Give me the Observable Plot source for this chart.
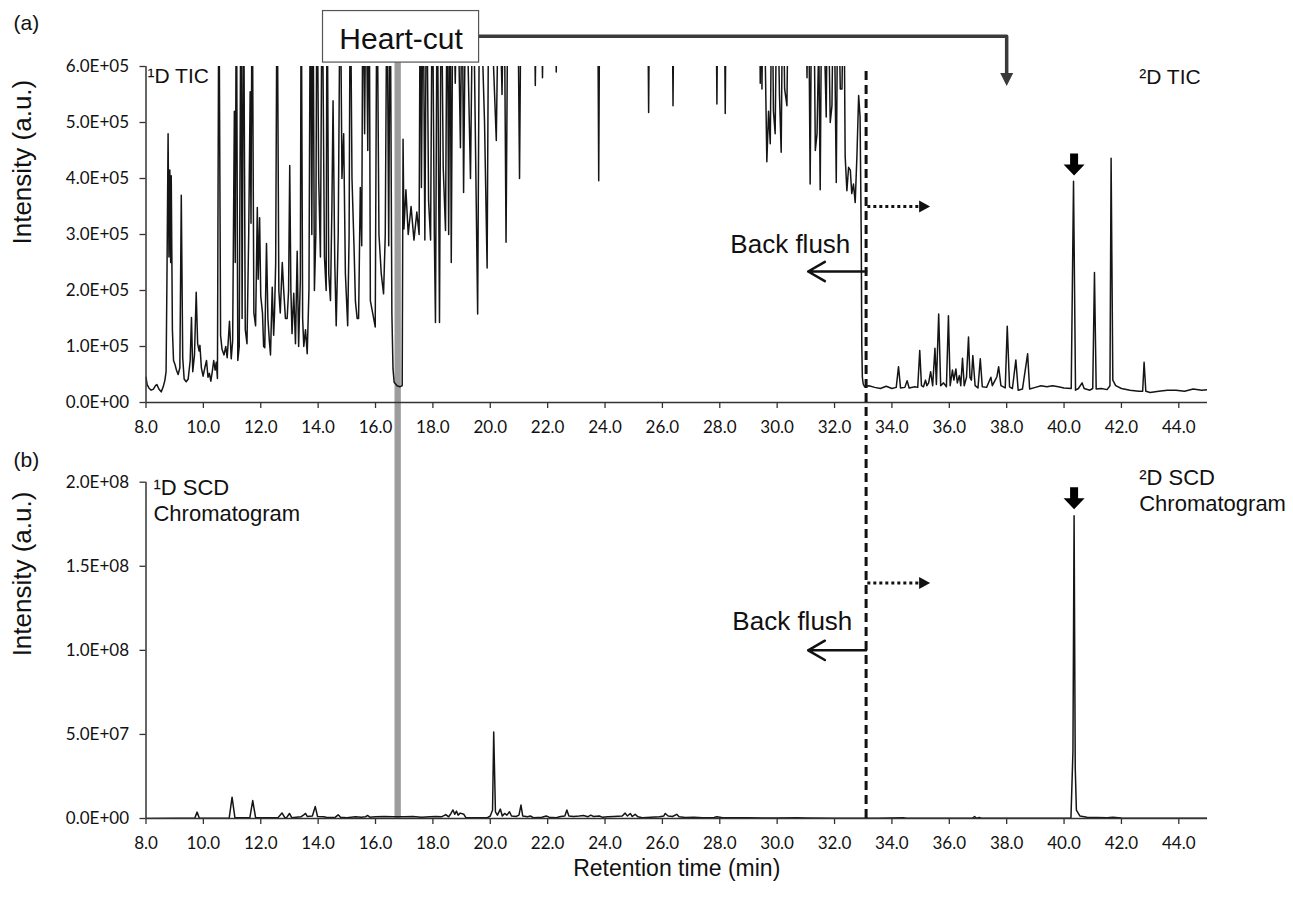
<!DOCTYPE html>
<html>
<head>
<meta charset="utf-8">
<script src="https://cdn.jsdelivr.net/npm/d3@7"></script>
<script src="https://cdn.jsdelivr.net/npm/@observablehq/plot@0.6"></script>
<style>
  body { margin: 0; background: #fff; }
  #wrap { position: relative; width: 1293px; height: 903px; overflow: hidden; background: #fff; }
  #wrap svg { position: absolute; left: 0; }
</style>
</head>
<body>
<div id="wrap"></div>
<script>
// ---------------- DATA ----------------
// shared x axis (retention time, min)
const xDomain = [8, 45];
const xTicks = [8, 10, 12, 14, 16, 18, 20, 22, 24, 26, 28, 30, 32, 34, 36, 38, 40, 42, 44];
const xTickLabels = ["8.0","10.0","12.0","14.0","16.0","18.0","20.0","22.0","24.0","26.0","28.0","30.0","32.0","34.0","36.0","38.0","40.0","42.0","44.0"];

// panel (a) y axis
const yDomainA = [0, 6e5];
const yTicksA = [0, 1e5, 2e5, 3e5, 4e5, 5e5, 6e5];
const yTickLabelsA = ["0.0E+00","1.0E+05","2.0E+05","3.0E+05","4.0E+05","5.0E+05","6.0E+05"];

// panel (b) y axis
const yDomainB = [0, 2e8];
const yTicksB = [0, 5e7, 1e8, 1.5e8, 2e8];
const yTickLabelsB = ["0.0E+00","5.0E+07","1.0E+08","1.5E+08","2.0E+08"];

// (a) TIC trace: [time (min), intensity (x1e5 a.u.)]; values above 6 run off the top of the frame
const ticTrace = [
  [8.00,0.45],[8.04,0.32],[8.10,0.26],[8.18,0.22],[8.26,0.24],[8.33,0.30],[8.38,0.32],[8.45,0.24],[8.53,0.19],[8.60,0.28],
  [8.66,0.40],[8.70,0.55],[8.73,2.2],[8.77,4.8],[8.80,2.6],[8.83,4.15],[8.86,2.5],[8.88,4.05],[8.92,1.3],[8.96,0.75],
  [9.01,0.68],[9.06,0.58],[9.12,0.50],[9.18,0.62],[9.23,3.7],[9.28,0.8],[9.33,0.42],[9.40,0.37],[9.47,0.42],[9.54,0.75],
  [9.585,1.52],[9.63,0.55],[9.69,0.85],[9.75,1.97],[9.80,1.05],[9.85,0.92],[9.88,1.02],[9.93,0.62],[9.99,0.47],[10.05,0.62],
  [10.11,0.75],[10.16,0.45],[10.21,0.52],[10.26,0.38],[10.31,0.55],[10.36,0.75],[10.41,0.58],[10.45,0.72],[10.49,0.43],[10.54,8],
  [10.60,1.2],[10.65,0.95],[10.72,0.85],[10.78,1.0],[10.83,0.8],[10.91,1.45],[10.97,0.78],[11.02,1.1],[11.08,5.2],[11.11,2.5],
  [11.15,8],[11.20,0.75],[11.25,1.0],[11.31,8],[11.35,1.5],[11.40,8],[11.46,1.3],[11.52,1.05],[11.58,3.0],[11.63,5.55],
  [11.66,3.2],[11.70,8],[11.76,1.6],[11.82,1.37],[11.88,3.48],[11.91,2.2],[11.96,3.3],[12.00,1.9],[12.06,1.6],[12.10,1.0],
  [12.14,0.98],[12.20,2.84],[12.25,1.5],[12.30,1.1],[12.34,0.85],[12.40,2.06],[12.45,1.2],[12.48,1.6],[12.52,2.48],[12.57,8],
  [12.63,2.0],[12.68,1.6],[12.75,2.5],[12.80,2.0],[12.86,1.5],[12.92,1.5],[12.97,2.0],[13.01,4.23],[13.05,2.0],[13.09,1.23],
  [13.15,1.95],[13.21,1.05],[13.27,2.7],[13.32,1.0],[13.38,2.2],[13.41,8],[13.46,1.5],[13.50,1.0],[13.56,1.3],[13.62,0.87],
  [13.68,2.0],[13.73,8],[13.78,3.0],[13.82,8],[13.87,2.0],[13.92,3.0],[13.96,8],[14.02,4.0],[14.08,2.6],[14.14,8],
  [14.22,2.6],[14.28,2.0],[14.31,8],[14.37,2.3],[14.43,1.82],[14.48,3.5],[14.52,5.39],[14.58,2.5],[14.63,1.37],[14.70,3.0],
  [14.77,8],[14.83,4.0],[14.89,4.8],[14.95,2.3],[15.03,1.37],[15.08,3.0],[15.12,8],[15.18,4.0],[15.25,2.8],[15.30,1.8],
  [15.36,1.5],[15.41,1.5],[15.47,3.84],[15.52,2.8],[15.56,8],[15.62,4.8],[15.67,8],[15.73,4.5],[15.78,8],[15.82,1.82],
  [15.90,1.6],[15.99,1.35],[16.05,8],[16.12,3.0],[16.20,2.3],[16.28,1.94],[16.34,3.0],[16.40,8],[16.46,2.8],[16.51,8],
  [16.57,1.6],[16.61,0.6],[16.65,0.36],[16.75,0.3],[16.85,0.28],[16.93,0.3],[16.96,4.7],[16.99,3.1],[17.06,3.8],[17.14,3.0],
  [17.24,3.5],[17.34,2.9],[17.44,3.4],[17.52,3.0],[17.56,8],[17.60,3.84],[17.66,8],[17.72,2.9],[17.78,8],[17.85,3.6],
  [17.92,2.9],[17.98,8],[18.05,3.0],[18.09,1.43],[18.15,8],[18.23,1.43],[18.29,8],[18.36,4.2],[18.44,3.07],[18.50,8],
  [18.55,3.0],[18.60,8],[18.64,2.5],[18.70,8],[18.78,5.7],[18.85,8],[18.96,4.55],[19.02,8],[19.07,3.75],[19.15,8],
  [19.31,4.0],[19.40,8],[19.56,1.58],[19.63,8],[19.80,5.0],[19.89,2.4],[19.95,8],[20.10,6.2],[20.21,4.68],[20.30,8],
  [20.41,5.5],[20.48,8],[20.55,2.86],[20.62,8],[20.80,7],[20.95,8],[21.02,4.0],[21.08,8],[21.52,8],[21.57,5.66],
  [21.62,8],[21.77,8],[21.82,5.8],[21.87,8],[22.26,8],[22.30,5.9],[22.34,8],[23.74,8],[23.78,3.96],[23.82,8],
  [25.48,8],[25.52,5.18],[25.56,8],[26.33,8],[26.37,5.3],[26.41,8],[27.86,8],[27.90,5.33],[27.94,8],[28.15,8],
  [28.19,5.16],[28.23,8],[29.38,8],[29.41,5.7],[29.44,8],[29.47,5.6],[29.52,8],[29.58,6.3],[29.64,4.3],[29.70,5.2],
  [29.76,4.62],[29.82,8],[29.87,5.2],[29.93,4.8],[30.00,8],[30.08,5.5],[30.14,4.47],[30.20,8],[30.26,5.6],[30.34,5.3],
  [30.40,8],[31.00,8],[31.04,5.8],[31.09,8],[31.15,3.9],[31.21,8],[31.27,8],[31.33,4.5],[31.39,4.8],[31.45,6.5],
  [31.50,3.8],[31.56,8],[31.66,6.2],[31.71,5.1],[31.76,8],[31.85,5.0],[31.91,5.3],[31.97,8],[32.06,3.93],[32.12,8],
  [32.20,5.6],[32.26,5.6],[32.32,8],[32.37,4.4],[32.43,3.78],[32.49,4.2],[32.55,4.15],[32.60,3.73],[32.66,3.9],[32.72,3.57],
  [32.78,4.4],[32.84,5.48],[32.89,5.1],[32.93,3.0],[32.95,1.0],[32.97,0.45],[33.00,0.33],[33.05,0.28],[33.20,0.30],[33.40,0.27],
  [33.60,0.25],[33.80,0.29],[34.00,0.25],[34.15,0.27],[34.23,0.64],[34.30,0.26],[34.45,0.27],[34.53,0.39],[34.60,0.26],[34.80,0.28],
  [34.90,0.27],[34.97,0.93],[35.03,0.30],[35.10,0.28],[35.17,0.40],[35.22,0.30],[35.28,0.35],[35.35,0.55],[35.42,0.30],[35.50,0.97],
  [35.55,0.32],[35.63,1.58],[35.70,0.30],[35.80,0.35],[35.90,0.28],[35.97,1.55],[36.03,0.30],[36.11,0.58],[36.16,0.40],[36.23,0.60],
  [36.28,0.35],[36.35,0.48],[36.40,0.30],[36.46,0.79],[36.52,0.30],[36.60,0.45],[36.67,1.17],[36.72,0.45],[36.77,0.40],[36.82,0.84],
  [36.90,0.30],[37.00,0.26],[37.08,0.78],[37.15,0.28],[37.30,0.27],[37.45,0.45],[37.50,0.30],[37.60,0.40],[37.66,0.46],[37.72,0.64],
  [37.80,0.30],[37.95,0.26],[38.02,1.36],[38.10,0.28],[38.20,0.25],[38.32,0.76],[38.40,0.22],[38.55,0.24],[38.73,0.87],[38.80,0.24],
  [39.00,0.27],[39.20,0.30],[39.40,0.28],[39.60,0.30],[39.80,0.28],[40.00,0.26],[40.25,0.25],[40.33,3.95],[40.40,0.22],[40.50,0.25],
  [40.63,0.35],[40.70,0.25],[40.90,0.22],[41.00,0.25],[41.06,2.32],[41.12,0.24],[41.30,0.25],[41.50,0.23],[41.60,0.30],[41.64,4.36],
  [41.70,0.40],[41.80,0.30],[42.00,0.25],[42.30,0.22],[42.60,0.20],[42.74,0.20],[42.79,0.72],[42.85,0.20],[43.00,0.18],[43.30,0.20],
  [43.60,0.22],[43.90,0.22],[44.20,0.20],[44.50,0.24],[44.80,0.22],[45.00,0.23]
];

// (b) SCD trace: [time (min), intensity (x1e7 a.u.)]
const scdTrace = [
  [8.0,0.0],[9.0,0.02],[9.7,0.02],[9.78,0.38],[9.86,0.02],[10.9,0.03],[11.0,1.27],[11.1,0.04],[11.62,0.05],[11.72,1.07],
  [11.82,0.05],[12.6,0.05],[12.74,0.33],[12.84,0.05],[12.9,0.05],[13.0,0.3],[13.08,0.05],[13.4,0.1],[13.5,0.22],[13.56,0.3],
  [13.62,0.12],[13.8,0.15],[13.9,0.71],[13.98,0.12],[14.2,0.1],[14.3,0.06],[14.6,0.08],[14.7,0.22],[14.78,0.08],[15.0,0.05],
  [15.3,0.1],[15.5,0.08],[15.65,0.1],[15.72,0.18],[15.8,0.08],[16.0,0.1],[16.3,0.12],[16.6,0.1],[17.0,0.1],[17.3,0.12],
  [17.6,0.08],[17.9,0.1],[18.1,0.12],[18.3,0.1],[18.45,0.23],[18.55,0.1],[18.63,0.3],[18.7,0.51],[18.76,0.25],[18.82,0.44],
  [18.88,0.2],[18.95,0.32],[19.08,0.25],[19.15,0.05],[19.6,0.05],[19.9,0.05],[20.0,0.15],[20.08,0.5],[20.12,5.14],[20.18,0.4],
  [20.25,0.2],[20.35,0.56],[20.42,0.15],[20.5,0.3],[20.58,0.2],[20.67,0.4],[20.74,0.15],[20.9,0.12],[21.0,0.2],[21.07,0.8],
  [21.13,0.15],[21.3,0.1],[21.4,0.15],[21.5,0.05],[21.8,0.08],[21.95,0.15],[22.05,0.08],[22.3,0.05],[22.45,0.12],[22.6,0.15],
  [22.67,0.51],[22.74,0.15],[22.9,0.12],[23.1,0.15],[23.25,0.18],[23.4,0.1],[23.5,0.2],[23.6,0.12],[23.8,0.15],[23.9,0.08],
  [24.1,0.1],[24.3,0.12],[24.6,0.15],[24.7,0.32],[24.78,0.15],[24.88,0.3],[24.95,0.12],[25.05,0.25],[25.15,0.1],[25.3,0.05],
  [25.6,0.08],[25.9,0.1],[26.05,0.15],[26.1,0.3],[26.2,0.15],[26.35,0.12],[26.5,0.25],[26.58,0.1],[26.8,0.06],[27.1,0.08],
  [27.4,0.05],[27.8,0.06],[27.9,0.1],[28.1,0.05],[28.5,0.04],[29.0,0.04],[29.5,0.03],[30.0,0.03],[30.7,0.04],[31.0,0.03],
  [32.0,0.02],[33.0,0.02],[33.5,0.01],[34.4,0.05],[34.5,0.01],[36.8,0.01],[36.88,0.12],[36.95,0.01],[37.05,0.06],[37.12,0.01],
  [40.24,0.01],[40.31,4.0],[40.35,18.0],[40.39,3.0],[40.43,0.5],[40.55,0.15],[40.8,0.08],[41.5,0.05],[41.7,0.08],[42.0,0.03],
  [45.0,0.02]
];

// annotations (data units)
const heartCutWindow = [16.68, 16.90];          // min
const backFlushTime = 33.1;                      // min
const targetPeakTime = 40.35;                    // min (marked peak)
const heartCutBox = {x1: 14.17, x2: 19.61, y1: 6.07e5, y2: 6.99e5, label: "Heart-cut", labelY: 6.49e5};
const transferPath = [[19.61, 6.54e5], [38.0, 6.54e5], [38.0, 5.85e5]];
const transferHead = [38.0, 5.77e5];
const backFlushA = {arrowY: 2.34e5, arrowEnd: 31.08, textX: 32.55, textY: 2.82e5, dotY: 3.5e5, dotEnd: 35.0, headX: 35.14};
const backFlushB = {arrowY: 1.0e8, arrowEnd: 31.08, textX: 32.62, textY: 1.17e8, dotY: 1.4e8, dotEnd: 35.0, headX: 35.14};
const markerYA = 4.25e5;
const markerYB = 1.905e8;
const panelLabelsA = [{t: 8.05, y: 5.82e5, text: "¹D TIC"}, {t: 42.62, y: 5.80e5, text: "²D TIC"}];
const panelLabelsB = [{t: 8.26, y: 2.035e8, text: "¹D SCD\nChromatogram"}, {t: 42.62, y: 2.095e8, text: "²D SCD\nChromatogram"}];

// ---------------- BUILD ----------------
const tic = ticTrace.map(([t, v]) => ({t, v: v * 1e5}));
const scd = scdTrace.map(([t, v]) => ({t, v: v * 1e7}));
const fmtX = d => xTickLabels[xTicks.indexOf(d)];
const fmtYA = d => yTickLabelsA[yTicksA.indexOf(d)];
const fmtYB = d => yTickLabelsB[yTicksB.indexOf(d)];

const SANS = "Liberation Sans, Arial, Helvetica, sans-serif";
const TICKFONT = "Lato, Open Sans, sans-serif";

// custom symbols
const blockArrowDown = {draw(c) { c.moveTo(-4, -11); c.lineTo(4, -11); c.lineTo(4, 0); c.lineTo(10.5, 0); c.lineTo(0, 11); c.lineTo(-10.5, 0); c.lineTo(-4, 0); c.closePath(); }};
const triDown = {draw(c) { c.moveTo(-6.5, -6.5); c.lineTo(6.5, -6.5); c.lineTo(0, 6.5); c.closePath(); }};
const triRight = {draw(c) { c.moveTo(-5.5, -6); c.lineTo(5.5, 0); c.lineTo(-5.5, 6); c.closePath(); }};

function axes(yTicks, fmtY) {
  return [
    Plot.ruleY([0], {stroke: "#333", strokeWidth: 1.5}),
    Plot.ruleX([xDomain[0]], {stroke: "#333", strokeWidth: 1.5}),
    Plot.axisX(xTicks, {tickFormat: fmtX, tickSize: 6, tickPadding: 12, label: null, stroke: "#333", strokeWidth: 1.3, fill: "#111", fontSize: 17}),
    Plot.axisY(yTicks, {tickFormat: fmtY, tickSize: 6, tickPadding: 11, label: null, stroke: "#333", strokeWidth: 1.3, fill: "#111", fontSize: 17})
  ];
}

function backFlushMarks(b) {
  return [
    Plot.arrow([b], {x1: () => backFlushTime, x2: "arrowEnd", y1: "arrowY", y2: "arrowY", stroke: "#111", strokeWidth: 2.5, headLength: 13, headAngle: 60}),
    Plot.text([b], {x: "textX", y: "textY", text: () => "Back flush", textAnchor: "end", fontSize: 26, fontFamily: SANS, fill: "#111"}),
    Plot.ruleY([b], {y: "dotY", x1: () => backFlushTime + 0.06, x2: "dotEnd", stroke: "#111", strokeWidth: 3, strokeDasharray: "3,3"}),
    Plot.dot([b], {x: "headX", y: "dotY", symbol: triRight, fill: "#111", stroke: "none"})
  ];
}

// ----- panel (a) -----
const plotA = Plot.plot({
  width: 1293, height: 440,
  marginLeft: 145.5, marginRight: 86, marginTop: 66, marginBottom: 38,
  x: {domain: xDomain},
  y: {domain: yDomainA},
  style: {fontFamily: TICKFONT, fontSize: "17px", color: "#222", background: "transparent"},
  marks: [
    Plot.rect([heartCutWindow], {x1: d => d[0], x2: d => d[1], y1: () => -5e5, y2: () => heartCutBox.y1, fill: "#9c9c9c"}),
    Plot.line(tic, {x: "t", y: "v", stroke: "#151515", strokeWidth: 1.5, clip: true}),
    ...axes(yTicksA, fmtYA),
    Plot.ruleX([backFlushTime], {y1: () => -5e5, y2: () => yDomainA[1], stroke: "#111", strokeWidth: 3, strokeDasharray: "9,5"}),
    ...backFlushMarks(backFlushA),
    Plot.text(panelLabelsA, {x: "t", y: "y", text: "text", textAnchor: "start", fontSize: 21, fontFamily: SANS, fill: "#111"}),
    Plot.dot([targetPeakTime], {x: d => d, y: () => markerYA, symbol: blockArrowDown, fill: "#000", stroke: "none"}),
    Plot.line(transferPath, {x: d => d[0], y: d => d[1], stroke: "#3a3a3a", strokeWidth: 3.5}),
    Plot.dot([transferHead], {x: d => d[0], y: d => d[1], symbol: triDown, fill: "#3a3a3a", stroke: "none"}),
    Plot.rect([heartCutBox], {x1: "x1", x2: "x2", y1: "y1", y2: "y2", fill: "#fff", stroke: "#555", strokeWidth: 1.2}),
    Plot.text([heartCutBox], {x: d => (d.x1 + d.x2) / 2, y: "labelY", text: "label", fontSize: 30, fontFamily: SANS, fill: "#111"}),
    Plot.text(["(a)"], {frameAnchor: "top-left", dx: -132.5, dy: -43, textAnchor: "start", lineAnchor: "middle", fontSize: 21, fontFamily: SANS, fill: "#111"}),
    Plot.text(["Intensity (a.u.)"], {frameAnchor: "left", dx: -123.5, dy: 10, rotate: -90, fontSize: 26, fontFamily: SANS, fill: "#111"})
  ]
});

// ----- panel (b) -----
const plotB = Plot.plot({
  width: 1293, height: 463,
  marginLeft: 145.5, marginRight: 86, marginTop: 41.7, marginBottom: 85,
  x: {domain: xDomain},
  y: {domain: yDomainB},
  style: {fontFamily: TICKFONT, fontSize: "17px", color: "#222", background: "transparent"},
  marks: [
    Plot.rect([heartCutWindow], {x1: d => d[0], x2: d => d[1], y1: () => 0, y2: () => 5e8, fill: "#9c9c9c"}),
    Plot.line(scd, {x: "t", y: "v", stroke: "#151515", strokeWidth: 1.5, clip: true}),
    ...axes(yTicksB, fmtYB),
    Plot.ruleX([backFlushTime], {y1: () => 0, y2: () => 5e8, stroke: "#111", strokeWidth: 3, strokeDasharray: "9,5"}),
    ...backFlushMarks(backFlushB),
    Plot.text(panelLabelsB, {x: "t", y: "y", text: "text", textAnchor: "start", lineAnchor: "top", lineHeight: 1.2, fontSize: 22, fontFamily: SANS, fill: "#111"}),
    Plot.dot([targetPeakTime], {x: d => d, y: () => markerYB, symbol: blockArrowDown, fill: "#000", stroke: "none"}),
    Plot.text(["(b)"], {frameAnchor: "top-left", dx: -132.5, dy: -22, textAnchor: "start", lineAnchor: "middle", fontSize: 21, fontFamily: SANS, fill: "#111"}),
    Plot.text(["Intensity (a.u.)"], {frameAnchor: "left", dx: -123.5, dy: 6, rotate: -90, fontSize: 26, fontFamily: SANS, fill: "#111"}),
    Plot.text(["Retention time (min)"], {frameAnchor: "bottom", lineAnchor: "middle", dy: 50, fontSize: 23, fontFamily: SANS, fill: "#111"})
  ]
});

plotA.style.top = "0px";
plotB.style.top = "440px";
const wrap = document.getElementById("wrap");
wrap.appendChild(plotA);
wrap.appendChild(plotB);
</script>
</body>
</html>
